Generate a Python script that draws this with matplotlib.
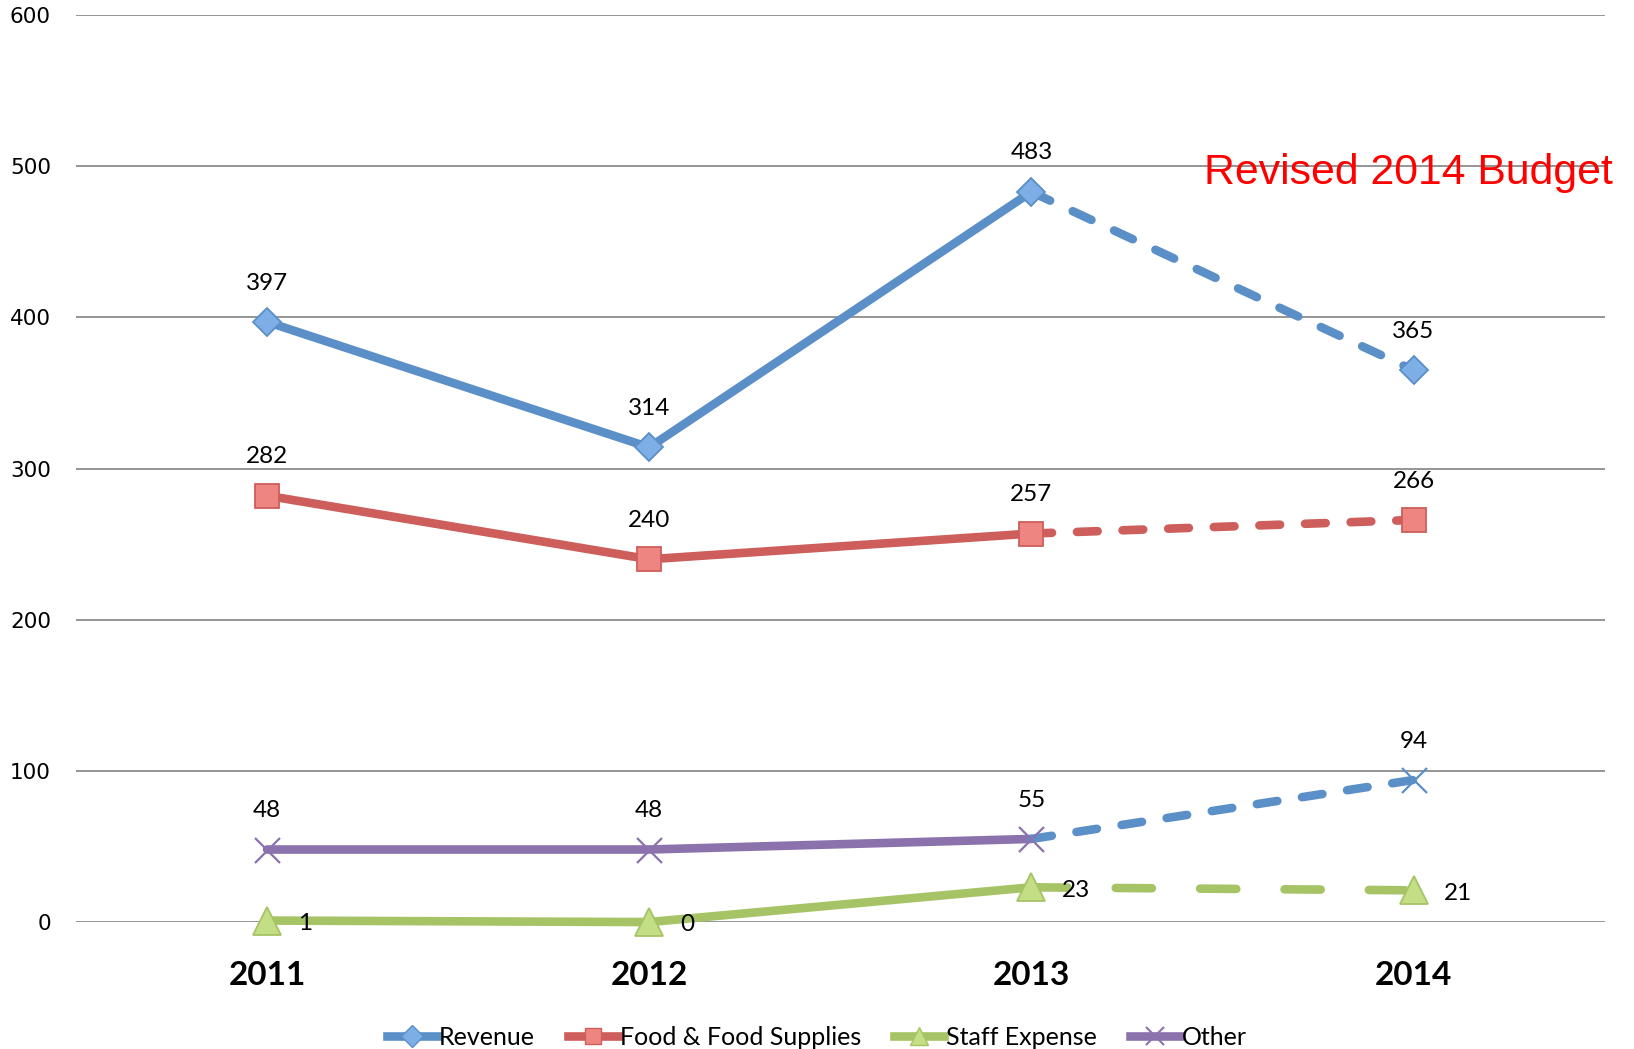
import matplotlib.pyplot as plt

years = ["2011", "2012", "2013", "2014"]
revenue = [397, 314, 483, 365]
food = [282, 240, 257, 266]
staff = [1, 0, 23, 21]
other = [48, 48, 55, 94]

y_ticks = [0, 100, 200, 300, 400, 500, 600]

blue = "#5B8FC8"
red = "#CD5E5B"
green = "#A6C466"
purple = "#8B72AD"

lw = 6.2

fig = plt.figure(figsize=(16.34, 10.49), dpi=100)
ax = fig.add_axes([0.0465, 0.121, 0.9355, 0.8647])

x = list(range(len(years)))


def draw(vals, color, marker, face, ms, dashes, dash_color=None, mew=1.3):
    dc = dash_color or color
    # actual years solid, the revised 2014 budget dashed
    ax.plot(x[:3], vals[:3], color=color, lw=lw, solid_capstyle="round", zorder=3,
            clip_on=False)
    ax.plot(x[2:], vals[2:], color=dc, lw=lw, linestyle=(0, dashes),
            dash_capstyle="round", zorder=3, clip_on=False)
    ax.plot(x[:3], vals[:3], linestyle="none", marker=marker, ms=ms,
            mfc=face, mec=color, mew=mew, zorder=4, clip_on=False)
    ax.plot(x[3:], vals[3:], linestyle="none", marker=marker, ms=ms,
            mfc=face if dash_color is None else dc, mec=dc, mew=mew, zorder=4,
            clip_on=False)


draw(revenue, blue, "D", "#7EAEE6", 14, (2.4, 2.9))
draw(food, red, "s", "#EF8581", 17, (2.4, 2.9))
draw(staff, green, "^", "#C3DE85", 20, (4.2, 5.6))
draw(other, purple, "x", purple, 18, (2.4, 2.9), dash_color=blue, mew=1.6)

label_font = dict(fontsize=17.5, family="Lato", color="black")
for series in (revenue, food, other):
    for xi, v in zip(x, series):
        ax.annotate(str(v), (xi, v), xytext=(0, 28), textcoords="offset points",
                    ha="center", va="center", **label_font)
for xi, v in zip(x, staff):
    ax.annotate(str(v), (xi, v), xytext=(22, -2), textcoords="offset points",
                ha="left", va="center", **label_font)

ax.set_xlim(-0.5, 3.5)
ax.set_ylim(0, 600)
ax.set_yticks(y_ticks)
ax.set_yticklabels([str(t) for t in y_ticks], fontsize=15.5, family="DejaVu Sans")
ax.set_xticks(x)
ax.set_xticklabels(years, fontsize=24, family="Lato", fontweight="bold")
ax.tick_params(axis="both", length=0)
ax.tick_params(axis="y", pad=18)
ax.tick_params(axis="x", pad=28)
ax.grid(axis="y", color="#8C8C8C", lw=1.3, zorder=0)
ax.set_axisbelow(True)
for s in ax.spines.values():
    s.set_visible(False)

fig.text(0.987, 0.835, "Revised 2014 Budget", color="#FF0000", fontsize=30.8,
         family="Liberation Sans", ha="right", va="center")

handles = [
    plt.Line2D([], [], color=blue, lw=lw, marker="D", ms=11, mfc="#7EAEE6", mec=blue),
    plt.Line2D([], [], color=red, lw=lw, marker="s", ms=12, mfc="#EF8581", mec=red),
    plt.Line2D([], [], color=green, lw=lw, marker="^", ms=13, mfc="#C3DE85", mec=green),
    plt.Line2D([], [], color=purple, lw=lw, marker="x", ms=13, mec=purple, mew=1.5),
]
fig.legend(handles, ["Revenue", "Food & Food Supplies", "Staff Expense", "Other"],
           loc="center", bbox_to_anchor=(0.5, 0.011), ncol=4, frameon=False,
           prop={"family": "Lato", "size": 18}, handlelength=2.0,
           handletextpad=0.1, columnspacing=1.3)

fig.savefig("out.png", dpi=100)
